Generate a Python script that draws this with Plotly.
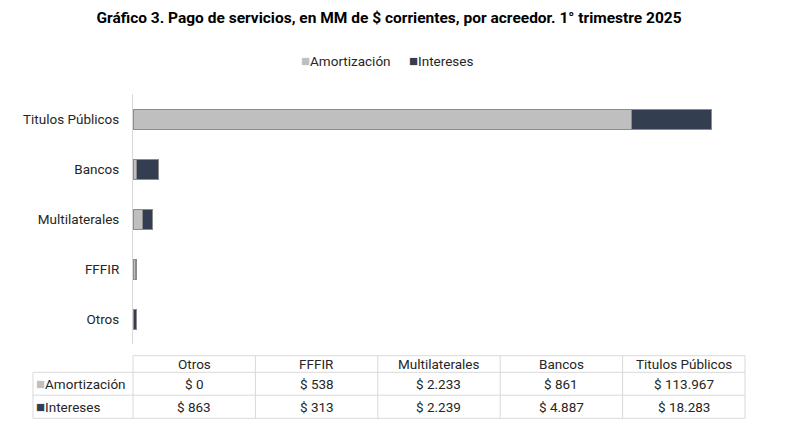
import plotly.graph_objects as go

acreedores = ["Otros", "FFFIR", "Multilaterales", "Bancos", "Titulos Públicos"]
amortizacion = [0, 538, 2233, 861, 113967]
intereses = [863, 313, 2239, 4887, 18283]
series = ["Amortización", "Intereses"]

colores = ["#bfbfbf", "#333f50"]
borde = "#8c8c8c"
rejilla = "#d9d9d9"
texto = "#262626"
fuente = "Roboto, Liberation Sans, sans-serif"
W, H = 790, 431


def py(p):
    # pixel vertical -> fraccion del papel (margenes en cero)
    return 1 - p / H


def pesos(v):
    return "$ " + f"{v:,}".replace(",", ".")


def cuadro(color, nombre):
    return f"<span style='color:{color};font-size:15px'>■</span>{nombre}"


def nota(txt, x, y, xanchor="center"):
    fig.add_annotation(text=txt, x=x / W, y=py(y), xref="paper", yref="paper",
                       xanchor=xanchor, yanchor="middle", showarrow=False,
                       font=dict(size=13.5, color=texto))


fig = go.Figure()
for nombre, valores, color in zip(series, [amortizacion, intereses], colores):
    fig.add_trace(go.Bar(y=acreedores, x=valores, name=nombre, orientation="h",
                         marker=dict(color=color, line=dict(color=borde, width=1))))

# leyenda compacta como en el original
for nombre, color, xc in zip(series, colores, [346, 441]):
    nota(cuadro(color, nombre), xc, 61)

# tabla de datos
x0, x1, x_lab = 33, 745, 133
ancho = (x1 - x_lab) / len(acreedores)
bordes_x = [x_lab + i * ancho for i in range(len(acreedores) + 1)]
y_top, y_head, y_r1, y_bot = 355.7, 372.3, 395.2, 418.3
lineas = dict(color=rejilla, width=1)

fig.add_shape(type="line", xref="paper", yref="paper", x0=x_lab / W, x1=x1 / W,
              y0=py(y_top), y1=py(y_top), line=lineas)
for yy in [y_head, y_r1, y_bot]:
    fig.add_shape(type="line", xref="paper", yref="paper", x0=x0 / W, x1=x1 / W,
                  y0=py(yy), y1=py(yy), line=lineas)
fig.add_shape(type="line", xref="paper", yref="paper", x0=x0 / W, x1=x0 / W,
              y0=py(y_head), y1=py(y_bot), line=lineas)
for xx in bordes_x:
    fig.add_shape(type="line", xref="paper", yref="paper", x0=xx / W, x1=xx / W,
                  y0=py(y_top), y1=py(y_bot), line=lineas)

filas_y = [(y_head + y_r1) / 2, (y_r1 + y_bot) / 2]
for i, nombre in enumerate(acreedores):
    xc = (bordes_x[i] + bordes_x[i + 1]) / 2
    nota(nombre, xc, (y_top + y_head) / 2)
    for fila, valores in zip(filas_y, [amortizacion, intereses]):
        nota(pesos(valores[i]), xc, fila)
for fila, nombre, color in zip(filas_y, series, colores):
    nota(cuadro(color, nombre), x0 + 1, fila, xanchor="left")

fig.update_layout(
    width=W, height=H,
    margin=dict(l=0, r=0, t=0, b=0),
    paper_bgcolor="white", plot_bgcolor="white",
    barmode="stack", bargap=0.6, showlegend=False,
    font=dict(family=fuente, size=13.5, color=texto),
    title=dict(text="<b>Gráfico 3. Pago de servicios, en MM de $ corrientes, por acreedor. 1° trimestre 2025</b>",
               x=389 / W, xanchor="center", y=py(18), yref="container", yanchor="middle",
               font=dict(family=fuente, size=15.5, color="#000000")),
    xaxis=dict(domain=[x_lab / W, x1 / W], range=[0, 140000], visible=False),
    yaxis=dict(domain=[py(344), py(94)], showline=True, linecolor=rejilla,
               linewidth=1, ticks="", ticklabelstandoff=10, showgrid=False),
)

fig.write_html("out.html", config={"displayModeBar": False},
               post_script="document.body.style.margin='0px';")
